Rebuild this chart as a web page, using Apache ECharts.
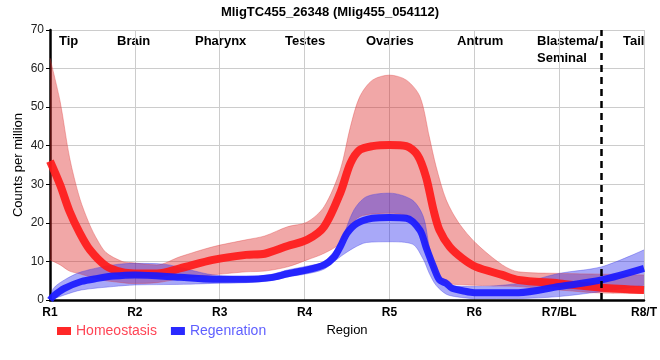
<!DOCTYPE html>
<html>
<head>
<meta charset="utf-8">
<script src="https://cdn.jsdelivr.net/npm/echarts@6/dist/echarts.min.js"></script>
<style>
html,body{margin:0;padding:0;background:#fff;}
#chart{width:660px;height:360px;}
</style>
</head>
<body>
<div id="chart"></div>
<script>
const xLabels = ['R1','R2','R3','R4','R5','R6','R7/BL','R8/T'];
const regionNames = ['Tip','Brain','Pharynx','Testes','Ovaries','Antrum','Blastema/\nSeminal','Tail'];

// Homeostasis mean curve
const homeX    = [1.0,1.12,1.23,1.35,1.47,1.66,1.85,2.0,2.26,2.53,2.92,3.31,3.53,3.8,4.03,4.23,4.42,4.54,4.65,4.8,5.0,5.2,5.33,5.43,5.52,5.59,5.71,5.86,6.02,6.33,6.52,7.0,7.5,8.0];
const homeMean = [36,29.8,23,17.4,13,8.8,7.2,6.9,6.9,8.2,10.4,11.7,12.0,14.0,15.6,19.0,27.7,35.4,38.9,39.9,40.2,39.9,37.6,32.0,23.3,18.1,13.8,10.8,8.6,6.5,5.2,4.3,3.2,2.6];
// Homeostasis band
const homeBandX = [1.0,1.12,1.23,1.35,1.47,1.56,1.66,1.85,1.95,2.26,2.53,2.92,3.31,3.53,3.8,4.03,4.23,4.42,4.54,4.65,4.8,5.0,5.2,5.36,5.47,5.55,5.67,5.82,6.02,6.33,6.52,7.0,7.5,8.0];
const homeLow   = [10.4,9.1,7.5,6.8,6.0,5.5,5.0,4.5,4.3,4.5,5.5,6.5,7.3,7.5,8.6,10.4,12.1,14.7,19.4,21.6,22.3,22.5,21.8,18.1,10.4,6.5,4.4,4.0,3.8,3.6,3.5,2.6,1.8,1.7];
const homeHigh  = [62.7,51.4,37,26.4,19.4,15.5,12.3,10.0,9.7,9.1,11.2,13.8,15.6,16.6,19,20.2,24.2,33.7,44.9,52.7,57,58.3,57,52.7,42.3,34.6,25.9,19.9,14.7,9.1,7.3,6.9,6.7,6.5];

// Regeneration mean curve
const regX    = [1.0,1.04,1.17,1.37,1.56,1.75,2.0,2.53,2.92,3.31,3.6,3.8,4.03,4.23,4.35,4.42,4.5,4.62,4.8,5.0,5.2,5.36,5.43,5.52,5.59,5.67,5.74,5.86,6.0,6.52,7.0,7.5,8.0];
const regMean = [0,1.0,3.0,4.8,5.6,6.2,6.5,5.9,5.4,5.4,5.8,6.8,7.8,9.1,11.2,13.8,17.3,19.9,21.2,21.4,21.2,18.1,13.8,8.6,5.2,4.3,3.0,2.4,1.9,1.9,3.5,5.2,8.2];
// Regeneration band
const regBandX = [1.0,1.04,1.17,1.37,1.75,2.0,2.34,2.65,2.92,3.31,3.6,3.8,4.03,4.23,4.42,4.58,4.73,5.0,5.27,5.4,5.47,5.55,5.67,5.8,6.0,6.52,7.0,7.5,8.0];
const regLow   = [0,0.3,1.3,2.6,3.5,3.9,4.0,4.1,4.3,4.5,5.0,6.0,6.8,8.0,11.2,13.5,14.9,15.1,14.5,10.5,6.9,3.8,1.5,0.8,0.4,0.4,0.9,2.2,3.8];
const regHigh  = [0.3,3.0,5.2,7.3,9.1,9.5,9.3,7.8,6.5,6.0,6.6,7.8,8.8,10.0,15.0,23.3,26.8,27.7,25.9,21.6,13.8,7.8,4.3,3.6,3.5,4.3,6.9,8.6,13.0];

const pairs = (xs, ys) => xs.map((x, i) => [x, ys[i]]);
// band items are stored as [value, x] so the value column is the one that gets stacked
const bandLow = (xs, lo) => xs.map((x, i) => [lo[i], x]);
const bandDiff = (xs, lo, hi) => xs.map((x, i) => [+(hi[i] - lo[i]).toFixed(2), x]);

const FONT = "'Liberation Sans', Arial, sans-serif";
const chart = echarts.init(document.getElementById('chart'), null, {renderer: 'canvas'});

function bandSeries(id, xs, lo, hi, fill, edge) {
  return [
    {
      name: id + 'Low', type: 'line', stack: id, data: bandLow(xs, lo),
      encode: {x: 1, y: 0},
      smooth: 0.3, symbol: 'none', silent: true,
      lineStyle: {width: 0.8, color: edge}
    },
    {
      name: id + 'Range', type: 'line', stack: id, data: bandDiff(xs, lo, hi),
      encode: {x: 1, y: 0},
      smooth: 0.3, symbol: 'none', silent: true,
      lineStyle: {width: 0.8, color: edge},
      areaStyle: {color: fill, opacity: 1}
    }
  ];
}

const option = {
  animation: false,
  title: {
    text: 'MligTC455_26348 (Mlig455_054112)',
    left: 'center', top: 1,
    textStyle: {fontFamily: FONT, fontSize: 13, fontWeight: 'bold', color: '#000'}
  },
  legend: {
    left: 52, top: 319, itemWidth: 14, itemHeight: 8, itemGap: 14,
    icon: 'rect',
    textStyle: {fontFamily: FONT, fontSize: 14},
    data: [
      {name: 'Homeostasis', textStyle: {color: '#ff4455'}},
      {name: 'Regenration', textStyle: {color: '#5f5fff'}}
    ]
  },
  grid: {left: 50, right: 10, top: 30, bottom: 60, containLabel: false},
  xAxis: {
    type: 'value', min: 1, max: 8, interval: 1,
    name: 'Region', nameLocation: 'middle', nameGap: 24, nameMoveOverlap: false,
    nameTextStyle: {fontFamily: FONT, fontSize: 13, color: '#000'},
    axisLine: {show: true, lineStyle: {color: '#000', width: 2.5}},
    axisTick: {show: false},
    axisLabel: {
      fontFamily: FONT, fontSize: 12, fontWeight: 'bold', color: '#000', margin: 7,
      formatter: v => xLabels[Math.round(v) - 1] || ''
    },
    splitLine: {show: true, lineStyle: {color: '#cccccc', width: 1}}
  },
  yAxis: {
    type: 'value', min: 0, max: 70, interval: 10,
    name: 'Counts per million', nameLocation: 'middle', nameGap: 25, nameMoveOverlap: false,
    nameTextStyle: {fontFamily: FONT, fontSize: 13, color: '#000'},
    axisLine: {show: true, lineStyle: {color: '#000', width: 2.5}},
    axisTick: {show: true, length: 4, lineStyle: {color: '#000'}},
    axisLabel: {fontFamily: FONT, fontSize: 12, color: '#222', margin: 6},
    splitLine: {show: true, lineStyle: {color: '#cccccc', width: 1}}
  },
  series: [
    ...bandSeries('home', homeBandX, homeLow, homeHigh, 'rgba(220,35,35,0.4)', 'rgba(220,60,60,0.45)'),
    ...bandSeries('reg', regBandX, regLow, regHigh, 'rgba(37,37,237,0.4)', 'rgba(60,60,230,0.45)'),
    {
      name: 'Homeostasis', type: 'line', data: pairs(homeX, homeMean),
      smooth: 0.3, symbol: 'none', color: '#ff2828',
      lineStyle: {width: 8, color: '#ff1a1a', opacity: 0.92}
    },
    {
      name: 'Regenration', type: 'line', data: pairs(regX, regMean),
      smooth: 0.3, symbol: 'none', color: '#2a2aff',
      lineStyle: {width: 7, color: '#1a1aff', opacity: 0.92},
      markLine: {
        silent: true, symbol: 'none', label: {show: false},
        lineStyle: {color: '#000', width: 2.5, type: [7, 5]},
        data: [{xAxis: 7.5}]
      }
    }
  ],
  graphic: [
    ['Tip', 59], ['Brain', 117], ['Pharynx', 195], ['Testes', 285],
    ['Ovaries', 366], ['Antrum', 457], ['Blastema/\nSeminal', 537], ['Tail', 623]
  ].map(([t, x]) => ({
    type: 'text', left: x, top: 33, silent: true,
    style: {text: t, fontFamily: FONT, fontSize: 13, fontWeight: 'bold', fill: '#000', lineHeight: 17}
  }))
};
chart.setOption(option);
</script>
</body>
</html>
